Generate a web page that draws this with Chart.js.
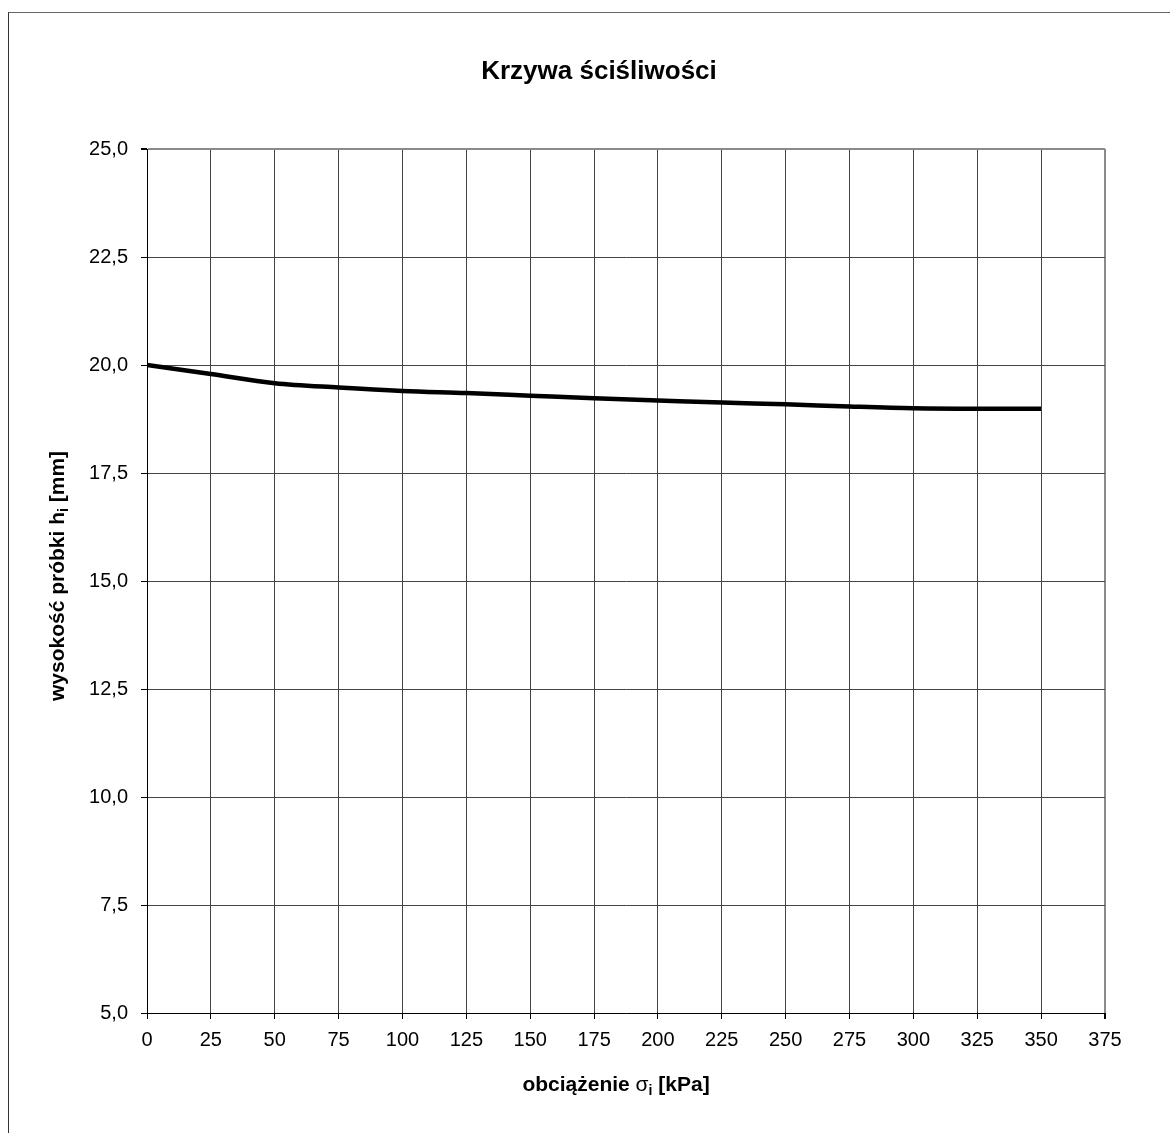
<!DOCTYPE html>
<html lang="pl">
<head>
    <meta charset="UTF-8">
    <title>Krzywa ściśliwości</title>
    <script src="https://cdn.jsdelivr.net/npm/chart.js@4.4.0/dist/chart.umd.min.js"></script>
    <style>
        html, body { margin: 0; padding: 0; background: #fff; }
        #ramka { position: absolute; left: 8px; top: 12px; width: 1170px; height: 1133px;
                 border-left: 1px solid #333; border-top: 1px solid #666; }
        #wykres { position: absolute; left: 0; top: 0; }
    </style>
</head>
<body>
    <div id="ramka"></div>
    <canvas id="wykres" width="1170" height="1133"></canvas>

    <script>
        // obciazenie [kPa] i wysokosc probki [mm]
        const obciazenie = [0, 25, 50, 75, 100, 125, 150, 175, 200, 225, 250, 275, 300, 325, 350];
        const wysokosc   = [20.0, 19.79, 19.58, 19.48, 19.40, 19.35, 19.29, 19.23, 19.18, 19.13, 19.09, 19.04, 19.0, 18.99, 18.99];

        const xMin = 0, xMax = 375, xKrok = 25;
        const yMin = 5, yMax = 25, yKrok = 2.5;

        const tytul = 'Krzywa ściśliwości';
        const fontRodzina = '"Liberation Sans", Arial, sans-serif';

        const punkty = obciazenie.map((x, i) => ({ x: x, y: wysokosc[i] }));

        // tekst z indeksem dolnym, np. h_i
        function rysujZIndeksem(ctx, czesci, x, y) {
            // czesci: [{t, font, dy}]
            let szer = 0;
            czesci.forEach(c => { ctx.font = c.font; szer += ctx.measureText(c.t).width; });
            let px = x - szer / 2;
            czesci.forEach(c => {
                ctx.font = c.font;
                ctx.fillText(c.t, px, y + (c.dy || 0));
                px += ctx.measureText(c.t).width;
            });
        }

        const napisy = {
            id: 'napisy',
            afterDraw(chart) {
                const ctx = chart.ctx;
                const area = chart.chartArea;
                ctx.save();
                ctx.fillStyle = '#000';
                ctx.textAlign = 'left';
                ctx.textBaseline = 'alphabetic';

                // tytul
                ctx.font = 'bold 26px ' + fontRodzina;
                const tw = ctx.measureText(tytul).width;
                ctx.fillText(tytul, 599 - tw / 2, area.top - 70);

                const bold = 'bold 21px ' + fontRodzina;
                const maly = 'bold 14px ' + fontRodzina;

                // os X
                rysujZIndeksem(ctx, [
                    { t: 'obciążenie ', font: bold },
                    { t: 'σ', font: '21px ' + fontRodzina },
                    { t: 'i', font: maly, dy: 4 },
                    { t: ' [kPa]', font: bold }
                ], (area.left + area.right) / 2 - 10, area.bottom + 78);

                // os Y
                ctx.translate(64, (area.top + area.bottom) / 2 - 5);
                ctx.rotate(-Math.PI / 2);
                rysujZIndeksem(ctx, [
                    { t: 'wysokość próbki h', font: bold },
                    { t: 'i', font: maly, dy: 4 },
                    { t: ' [mm]', font: bold }
                ], 0, 0);
                ctx.restore();
            }
        };

        const kolorSiatki = (brzeg) => (ctx) => (ctx.tick && ctx.tick.value === brzeg) ? '#8a8a8a' : '#444';

        const ctx = document.getElementById('wykres').getContext('2d');
        const myChart = new Chart(ctx, {
            type: 'line',
            data: {
                datasets: [{
                    label: 'wysokość próbki',
                    data: punkty,
                    borderColor: '#000',
                    borderWidth: 4.5,
                    pointRadius: 0,
                    fill: false,
                    cubicInterpolationMode: 'monotone'
                }]
            },
            options: {
                responsive: false,
                devicePixelRatio: 1,
                animation: false,
                layout: { padding: { left: 0, top: 149, right: 65, bottom: 0 } },
                plugins: {
                    legend: { display: false },
                    title: { display: false },
                    tooltip: { enabled: false }
                },
                scales: {
                    x: {
                        type: 'linear',
                        min: xMin, max: xMax,
                        afterFit(scale) { scale.height = 120; },
                        ticks: {
                            stepSize: xKrok,
                            padding: 9,
                            color: '#000',
                            font: { family: fontRodzina, size: 20 },
                            maxRotation: 0
                        },
                        grid: {
                            color: kolorSiatki(xMax),
                            lineWidth: (c) => (c.tick && c.tick.value === xMax) ? 2 : 1,
                            tickColor: '#000',
                            tickLength: 6
                        },
                        border: { color: '#000', width: 1 }
                    },
                    y: {
                        min: yMin, max: yMax,
                        afterFit(scale) { scale.width = 147; },
                        ticks: {
                            stepSize: yKrok,
                            padding: 13,
                            color: '#000',
                            font: { family: fontRodzina, size: 20 },
                            callback: (v) => v.toFixed(1).replace('.', ',')
                        },
                        grid: {
                            color: kolorSiatki(yMax),
                            lineWidth: (c) => (c.tick && c.tick.value === yMax) ? 2 : 1,
                            tickColor: '#000',
                            tickLength: 6
                        },
                        border: { color: '#000', width: 1 }
                    }
                }
            },
            plugins: [napisy]
        });
    </script>
</body>
</html>
